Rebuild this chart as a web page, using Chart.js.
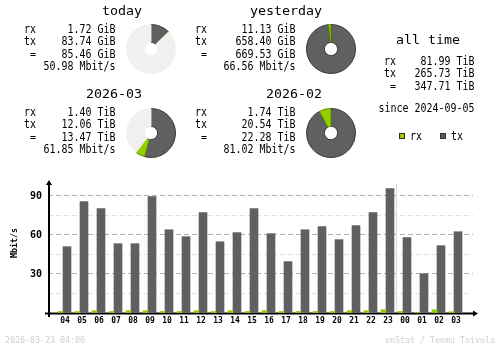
<!DOCTYPE html>
<html>
<head>
<meta charset="utf-8">
<script src="https://cdn.jsdelivr.net/npm/chart.js@4"></script>
<style>
  body { margin: 0; background: #fff; }
  #wrap { position: relative; width: 500px; height: 348px; }
  #wrap canvas { position: absolute; }
</style>
</head>
<body>
<div id="wrap">
  <canvas id="hours" width="500" height="348" style="left:0;top:0"></canvas>
  <canvas id="pie0" width="50" height="50" style="left:126px;top:24px"></canvas>
  <canvas id="pie1" width="50" height="50" style="left:306px;top:24px"></canvas>
  <canvas id="pie2" width="50" height="50" style="left:126px;top:108px"></canvas>
  <canvas id="pie3" width="50" height="50" style="left:306px;top:108px"></canvas>
</div>
<script>
// hourly averages, Mbit/s
const hours = ['04', '05', '06', '07', '08', '09', '10', '11', '12', '13', '14', '15',
               '16', '17', '18', '19', '20', '21', '22', '23', '00', '01', '02', '03'];
const rxRate = [1.2, 1.2, 1.8, 1.2, 1.8, 1.8, 1.2, 1.2, 1.8, 1.2, 1.8, 1.2,
                1.8, 1.2, 1.2, 1.2, 1.2, 1.8, 1.8, 2.6, 1.2, 0.3, 2.5, 1];
const txRate = [51, 85.6, 80.2, 53.3, 53.3, 89.5, 64, 58.7, 77.2, 54.8, 61.8, 80.2,
                61, 39.5, 64, 66.4, 56.4, 67.2, 77.2, 95.6, 58, 30.2, 51.8, 62.5];
const yTicks = [30, 60, 90];

// summary blocks
const periods = ['today', 'yesterday', '2026-03', '2026-02'];
const units = ['GiB', 'GiB', 'TiB', 'TiB'];
const rxTotal = [1.72, 11.13, 1.40, 1.74];
const txTotal = [83.74, 658.40, 12.06, 20.54];
const sumTotal = [85.46, 669.53, 13.47, 22.28];
const avgRate = [50.98, 66.56, 61.85, 81.02];
const pieFull = [669.53, 669.53, 22.28, 22.28];

const allRx = 81.99, allTx = 265.73, allSum = 347.71;
const since = '2024-09-05';
const stamp = '2026-03-23 04:00';

const RX = '#92cf00', TX = '#606060', PIE_BG = '#f0f0f0';
const MONO = '"DejaVu Sans Mono", monospace';

// monospace text squeezed to a fixed cell width
function put(ctx, s, x, y, o) {
  o = Object.assign({ size: 12, cw: 6, align: 'left', color: '#000', bold: false, rot: 0 }, o);
  ctx.save();
  ctx.font = (o.bold ? 'bold ' : '') + o.size + 'px ' + MONO;
  const k = o.cw * s.length / ctx.measureText(s).width;
  ctx.translate(x, y);
  if (o.rot) ctx.rotate(o.rot);
  ctx.scale(k, 1);
  ctx.textAlign = o.align;
  ctx.textBaseline = o.rot ? 'middle' : 'alphabetic';
  ctx.fillStyle = o.color;
  ctx.fillText(s, 0, 0);
  ctx.restore();
}

const blocks = [
  { lx: 24, vx: 115.5, y: 33, tx: 142 },
  { lx: 195, vx: 295.5, y: 33, tx: 322 },
  { lx: 24, vx: 115.5, y: 116, tx: 142 },
  { lx: 195, vx: 295.5, y: 116, tx: 322 }
];
const ROW = 12.3;

const decor = {
  id: 'decor',
  // axes go under the bars
  beforeDatasetsDraw(chart) {
    const ctx = chart.ctx;
    const { left, right, top, bottom } = chart.chartArea;
    const xs = chart.scales.x;

    // day change marker between 23 and 00
    const brk = hours.indexOf('00');
    const sx = Math.round((xs.getPixelForValue(brk - 1) + 8 + xs.getPixelForValue(brk) - 5) / 2) + 0.5;
    ctx.save();
    ctx.strokeStyle = '#d8d8d8';
    ctx.lineWidth = 1;
    ctx.beginPath();
    ctx.moveTo(sx, top + 3);
    ctx.lineTo(sx, bottom);
    ctx.stroke();

    ctx.strokeStyle = '#000';
    ctx.fillStyle = '#000';
    ctx.lineWidth = 2;
    ctx.beginPath();
    ctx.moveTo(left + 1, bottom + 4);
    ctx.lineTo(left + 1, top + 2);
    ctx.moveTo(left - 3, bottom + 0.5);
    ctx.lineTo(right + 2, bottom + 0.5);
    ctx.stroke();
    ctx.beginPath();
    ctx.moveTo(left + 1, top - 1);
    ctx.lineTo(left - 2, top + 4);
    ctx.lineTo(left + 4, top + 4);
    ctx.fill();
    ctx.beginPath();
    ctx.moveTo(right + 5, bottom + 0.5);
    ctx.lineTo(right, bottom - 2.5);
    ctx.lineTo(right, bottom + 3.5);
    ctx.fill();
    ctx.restore();
  },
  afterDraw(chart) {
    const ctx = chart.ctx;
    const { top, bottom } = chart.chartArea;

    put(ctx, 'Mbit/s', 15, (top + bottom) / 2 - 4, { size: 8, cw: 5, bold: true, align: 'center', rot: -Math.PI / 2 });

    // per period text
    periods.forEach((p, i) => {
      const b = blocks[i];
      put(ctx, p, b.tx, b.y - 18, { size: 13, cw: 8, align: 'right' });
      put(ctx, 'rx', b.lx, b.y);
      put(ctx, 'tx', b.lx, b.y + ROW);
      put(ctx, ' =', b.lx, b.y + ROW * 2);
      put(ctx, rxTotal[i].toFixed(2) + ' ' + units[i], b.vx, b.y, { align: 'right' });
      put(ctx, txTotal[i].toFixed(2) + ' ' + units[i], b.vx, b.y + ROW, { align: 'right' });
      put(ctx, sumTotal[i].toFixed(2) + ' ' + units[i], b.vx, b.y + ROW * 2, { align: 'right' });
      put(ctx, avgRate[i].toFixed(2) + ' Mbit/s', b.vx, b.y + ROW * 3, { align: 'right' });
    });

    // all time
    put(ctx, 'all time', 396, 44, { size: 13, cw: 8 });
    put(ctx, 'rx', 384, 65);
    put(ctx, 'tx', 384, 65 + ROW);
    put(ctx, ' =', 384, 65 + ROW * 2);
    put(ctx, allRx.toFixed(2) + ' TiB', 474.5, 65, { align: 'right' });
    put(ctx, allTx.toFixed(2) + ' TiB', 474.5, 65 + ROW, { align: 'right' });
    put(ctx, allSum.toFixed(2) + ' TiB', 474.5, 65 + ROW * 2, { align: 'right' });
    put(ctx, 'since ' + since, 474.5, 112, { align: 'right' });

    // legend
    chart.data.datasets.forEach((ds, i) => {
      const lx = 399 + i * 41;
      ctx.save();
      ctx.fillStyle = ds.backgroundColor;
      ctx.fillRect(lx, 133, 6, 6);
      ctx.strokeStyle = '#303030';
      ctx.lineWidth = 1;
      ctx.strokeRect(lx + 0.5, 133.5, 5, 5);
      ctx.restore();
      put(ctx, ds.label, lx + 11, 140);
    });

    // footer
    put(ctx, stamp, 5, 342.5, { size: 8, cw: 5, color: '#d0d0d0' });
    put(ctx, 'vnStat / Teemu Toivola', 495, 342.5, { size: 8, cw: 5, color: '#d0d0d0', align: 'right' });
  }
};

new Chart(document.getElementById('hours'), {
  type: 'bar',
  data: {
    datasets: [
      { label: 'rx', data: hours.map((h, i) => ({ x: i, y: rxRate[i] })), backgroundColor: RX, barThickness: 5 },
      { label: 'tx', data: hours.map((h, i) => ({ x: i, y: txRate[i] })), backgroundColor: TX, barThickness: 8 }
    ]
  },
  options: {
    responsive: false,
    animation: false,
    layout: { padding: { top: 181, right: 27, left: 0, bottom: 0 } },
    plugins: { legend: { display: false }, tooltip: { enabled: false } },
    scales: {
      x: {
        type: 'linear',
        min: -15 / 17,
        max: 410 / 17,
        offset: false,
        grid: { display: false, drawTicks: false },
        border: { display: false },
        afterBuildTicks: s => { s.ticks = hours.map((h, i) => ({ value: i })); },
        afterFit: s => { s.height = 35; },
        ticks: {
          autoSkip: false,
          maxRotation: 0,
          labelOffset: 2,
          padding: 3,
          color: '#000',
          font: { family: MONO, size: 8, weight: 'bold' },
          callback: v => hours[v]
        }
      },
      y: {
        min: 0,
        max: 101.5,
        afterFit: s => { s.width = 48; },
        grid: {
          drawTicks: false,
          color: c => {
            const v = c.tick.value;
            if (v <= 0 || v % 15 !== 0) return 'rgba(0,0,0,0)';
            return v % 30 === 0 ? '#b0b0b0' : '#e0e0e0';
          }
        },
        border: { display: false, dash: [5, 3] },
        ticks: {
          stepSize: 15,
          includeBounds: false,
          padding: 6,
          color: '#000',
          font: { family: MONO, size: 10, weight: 'bold' },
          callback: v => (yTicks.includes(v) ? v : '')
        }
      }
    }
  },
  plugins: [decor]
});

// share of each period, drawn clockwise from 12 o'clock: tx, rx, then the unused part
periods.forEach((p, i) => {
  new Chart(document.getElementById('pie' + i), {
    type: 'doughnut',
    data: {
      labels: ['tx', 'rx', ''],
      datasets: [{
        data: [txTotal[i], rxTotal[i], Math.max(pieFull[i] - sumTotal[i], 0)],
        backgroundColor: [TX, RX, PIE_BG],
        borderColor: ['#383838', '#5f8a00', PIE_BG],
        borderWidth: 1
      }]
    },
    options: {
      responsive: false,
      animation: false,
      cutout: '27%',
      plugins: { legend: { display: false }, tooltip: { enabled: false } }
    }
  });
});
</script>
</body>
</html>
